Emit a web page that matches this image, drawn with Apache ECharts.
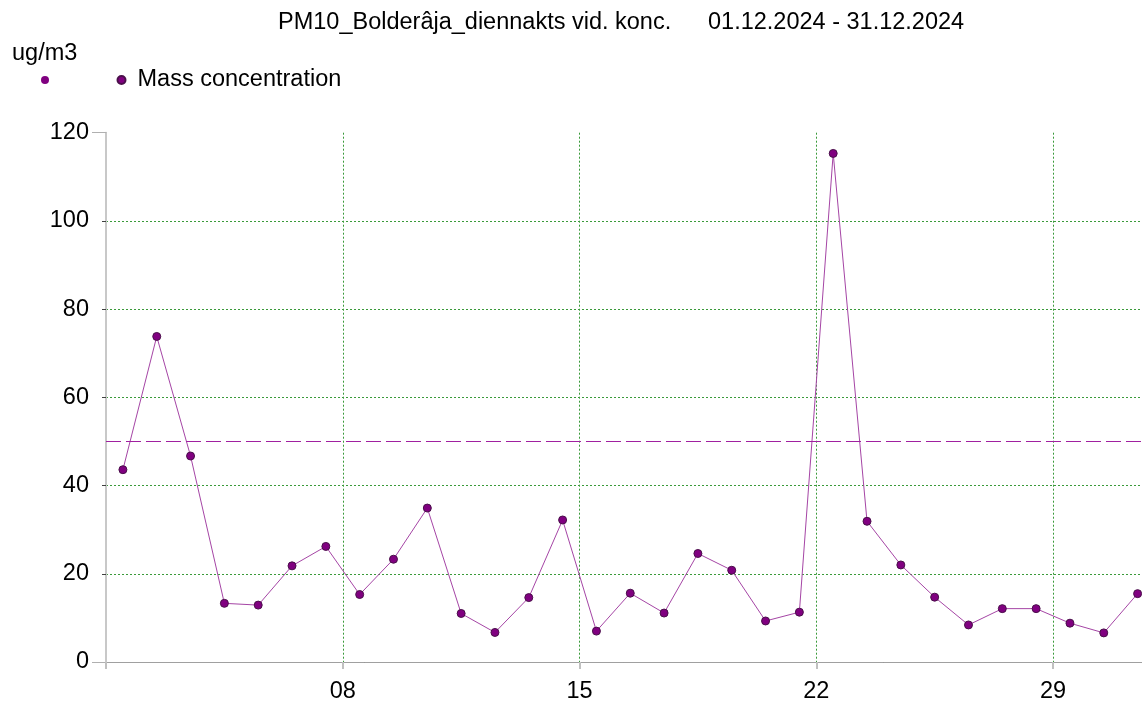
<!DOCTYPE html>
<html>
<head>
<meta charset="utf-8">
<script src="https://cdn.jsdelivr.net/npm/echarts@6/dist/echarts.min.js"></script>
<style>
html,body{margin:0;padding:0;background:#fff;}
#chart{width:1142px;height:704px;}
</style>
</head>
<body>
<div id="chart"></div>
<script>
const days = [1,2,3,4,5,6,7,8,9,10,11,12,13,14,15,16,17,18,19,20,21,22,23,24,25,26,27,28,29,30,31];
const values = [43.6, 73.8, 46.7, 13.3, 12.9, 21.8, 26.2, 15.3, 23.3, 34.9, 11.0, 6.7, 14.6, 32.2, 7.0, 15.6, 11.1, 24.6, 20.8, 9.3, 11.3, 115.3, 31.9, 22.0, 14.7, 8.4, 12.1, 12.1, 8.8, 6.6, 15.5];
const tickLabels = ['', '08', '15', '22', '29'];
const limitValue = 50;
const seriesName = 'Mass concentration';
const titleMain = 'PM10_Bolderâja_diennakts vid. konc.';
const titleDates = '01.12.2024 - 31.12.2024';
const unitLabel = 'ug/m3';

const FONT = "'Liberation Sans', Arial, sans-serif";
const FS = 23.5;
const AX_FS = 23.5;
const GREEN = '#3a9a3a';
const chart = echarts.init(document.getElementById('chart'), null, {renderer: 'canvas'});

const option = {
  backgroundColor: '#ffffff',
  animation: false,
  title: [
    {text: titleMain, left: 278, top: 11, padding: 0,
     textStyle: {fontFamily: FONT, fontSize: FS, fontWeight: 'normal', color: '#000'}},
    {text: titleDates, left: 708, top: 11, padding: 0,
     textStyle: {fontFamily: FONT, fontSize: FS, fontWeight: 'normal', color: '#000'}},
    {text: unitLabel, left: 12, top: 42, padding: 0,
     textStyle: {fontFamily: FONT, fontSize: FS, fontWeight: 'normal', color: '#000'}}
  ],
  legend: [
    {data: [' '], left: 41, top: 68, padding: 0, icon: 'circle', itemWidth: 8, itemHeight: 8,
     textStyle: {fontFamily: FONT, fontSize: FS, color: '#000'}},
    {data: [seriesName], left: 116.5, top: 68, padding: 0, icon: 'circle', itemWidth: 8, itemHeight: 8,
     itemGap: 0, textStyle: {fontFamily: FONT, fontSize: FS, color: '#000', padding: [0, 0, 0, 7]}}
  ],
  grid: {left: 106, right: 0, top: 132.7, bottom: 41.3, containLabel: false},
  xAxis: [
    {type: 'value', min: 0, max: 30.63, interval: 7, offset: 2,
     axisLine: {show: true, lineStyle: {color: '#555', width: 1}},
     axisTick: {show: true, length: 7, lineStyle: {color: '#c0c0c0', width: 2}},
     axisLabel: {margin: 16, fontFamily: FONT, fontSize: AX_FS, color: '#000', showMaxLabel: false,
       formatter: function (v) { const k = Math.round(v / 7); const l = tickLabels[k]; return (Math.abs(v / 7 - k) < 1e-6 && l !== undefined) ? l : ''; }},
     splitLine: {show: true, showMinLine: false, showMaxLine: false,
       lineStyle: {color: GREEN, type: [2, 2], width: 1, opacity: 1}}},
    {type: 'value', position: 'top', min: 0, max: 30.63,
     axisLine: {show: true, lineStyle: {color: '#a0a0a0', width: 1}},
     axisTick: {show: false}, axisLabel: {show: false}, splitLine: {show: false}}
  ],
  yAxis: [
    {type: 'value', min: 0, max: 120, interval: 20, offset: 3,
     axisLine: {show: true, lineStyle: {color: '#404040', width: 1}},
     axisTick: {show: true, length: 4, lineStyle: {color: '#404040', width: 1}},
     axisLabel: {margin: 14, fontFamily: FONT, fontSize: AX_FS, color: '#000'},
     splitLine: {show: true, showMinLine: false, showMaxLine: false,
       lineStyle: {color: GREEN, type: [2, 2], width: 1, opacity: 1}}},
    {type: 'value', position: 'left', min: 0, max: 120, offset: 0,
     axisLine: {show: true, lineStyle: {color: '#c8c8c8', width: 2}},
     axisTick: {show: true, customValues: [0, 120], length: 14, lineStyle: {color: '#b0b0b0', width: 1}},
     axisLabel: {show: false}, splitLine: {show: false}}
  ],
  series: [
    {name: ' ', type: 'line', data: [], symbol: 'circle', itemStyle: {color: '#800080'},
     markLine: {silent: true, symbol: 'none', label: {show: false},
       lineStyle: {color: '#a020a0', type: [15, 5], width: 1},
       data: [{yAxis: limitValue}]}},
    {name: seriesName, type: 'line',
     data: days.map((d, i) => [d - 0.5, values[i]]),
     symbol: 'circle', symbolSize: 8,
     lineStyle: {color: '#a545a5', width: 1},
     itemStyle: {color: '#800080', borderColor: '#4a104a', borderWidth: 1}}
  ]
};
chart.setOption(option);
</script>
</body>
</html>
